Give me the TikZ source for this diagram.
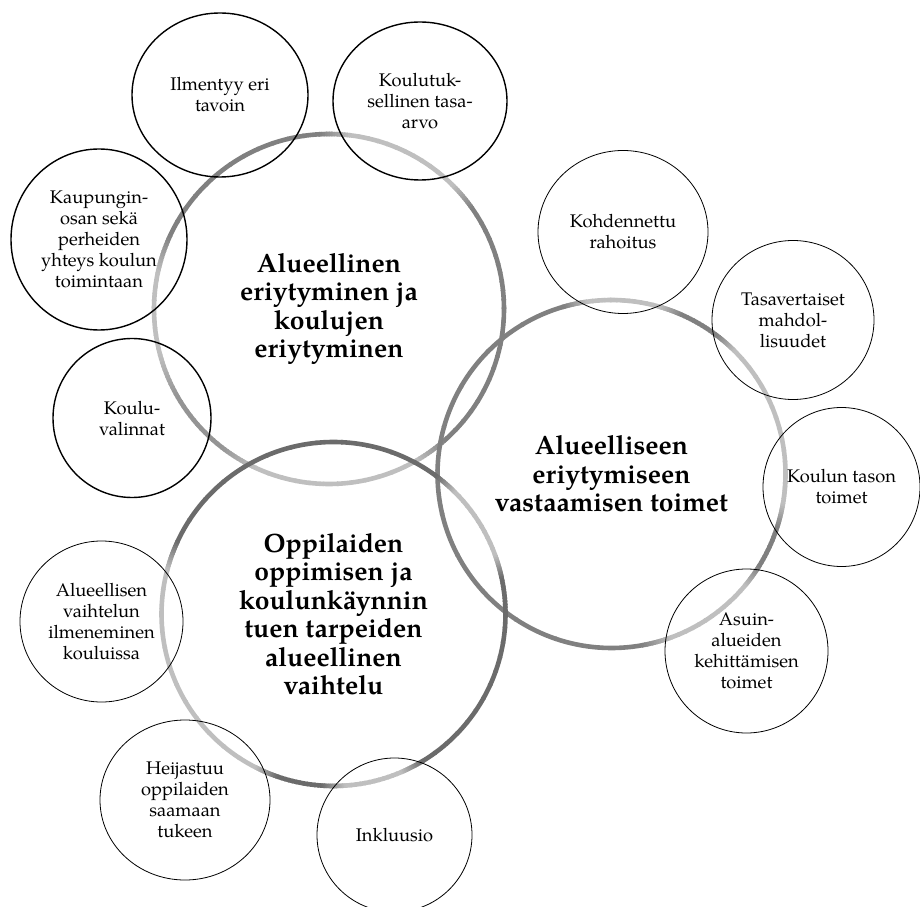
\documentclass[tikz,border=0pt]{standalone}
\usepackage{fontspec}
\setmainfont{texgyrepagella}[Extension=.otf, UprightFont=*-regular, BoldFont=*-bold, ItalicFont=*-italic, BoldItalicFont=*-bolditalic]
\usetikzlibrary{shapes.geometric}
\tikzset{
  bigring/.style={line width=4.6pt, line cap=butt},
  sat/.style n args={2}{ellipse, draw, inner sep=0pt, minimum width=#1, minimum height=#2},
  satA/.style={line width=1.4pt},
  satB/.style={line width=0.8pt},
  smalltext/.style={align=center, inner sep=0pt, font=\fontsize{18.3}{21}\selectfont},
  bigtext/.style={align=center, inner sep=0pt, font=\fontsize{26.5}{28.5}\selectfont\bfseries},
}
\newcommand{\gradarc}[6]{%
  \foreach \k in {0,...,11}{%
    \pgfmathsetmacro{\gaA}{#3+(#4-#3)*\k/12}%
    \pgfmathsetmacro{\gaB}{#3+(#4-#3)*(\k+1)/12+0.5}%
    \pgfmathsetmacro{\gpP}{#5+(#6-#5)*(\k+0.5)/12}%
    \draw[bigring, black!\gpP] (#1) ++(\gaA:#2) arc[start angle=\gaA, end angle=\gaB, radius=#2];
  }}
\begin{document}
\begin{tikzpicture}[x=1pt, y=1pt]
\useasboundingbox (0,0) rectangle (920,906);
\clip (0,0) rectangle (920,906);
\coordinate (A) at (329,597);
\coordinate (B) at (611.5,432);
\coordinate (C) at (333.5,292);
% big ring A
\foreach \a/\p/\b/\q in {0/50/35/50, 35/50/45/25, 45/25/83/25, 83/25/93/50, 93/50/155/50, 155/50/168/25, 168/25/195/25, 195/25/210/42, 210/42/232/42, 232/42/245/25, 245/25/300/25, 300/25/312/50, 312/50/360/50}{%
  \gradarc{A}{175}{\a}{\b}{\p}{\q}}
% big ring B
\foreach \a/\p/\b/\q in {0/25/45/25, 45/25/53/50, 53/50/66/50, 66/50/74/25, 74/25/98/25, 98/25/106/50, 106/50/280/50, 280/50/290/25, 290/25/320/25, 320/25/328/50, 328/50/342/50, 342/50/350/25, 350/25/360/25}{%
  \gradarc{B}{174}{\a}{\b}{\p}{\q}}
% big ring C
\foreach \a/\p/\b/\q in {0/58/12/58, 12/58/20/25, 20/25/45/25, 45/25/53/58, 53/58/155/58, 155/58/165/25, 165/25/243/25, 243/25/251/58, 251/58/266/58, 266/58/274/25, 274/25/293/25, 293/25/301/58, 301/58/360/58}{%
  \gradarc{C}{172}{\a}{\b}{\p}{\q}}
% satellites
\node[sat={176pt}{164pt}, satA] (s1) at (220,811) {};
\node[sat={174pt}{158pt}, satA] (s2) at (420,805) {};
\node[sat={176pt}{181pt}, satA] (s3) at (99,666.5) {};
\node[sat={158pt}{159pt}, satA] (s4) at (132,488) {};
\node[sat={170pt}{163pt}, satB] (s5) at (623,674) {};
\node[sat={162pt}{159pt}, satB] (s6) at (793,586) {};
\node[sat={157pt}{159pt}, satB] (s7) at (841.5,419) {};
\node[sat={163pt}{164pt}, satB] (s8) at (746.5,255) {};
\node[sat={155pt}{154pt}, satB] (s9) at (394.5,71) {};
\node[sat={170pt}{160pt}, satB] (s10) at (185,106) {};
\node[sat={163pt}{161pt}, satB] (s11) at (101.5,284.5) {};
% texts
\node[smalltext] (t1) at (s1) {Ilmentyy eri\\tavoin};
\node[smalltext] (t2) at (s2) {Koulutuk-\\sellinen tasa-\\arvo};
\node[smalltext] (t3) at (s3) {Kaupungin-\\osan sekä\\perheiden\\yhteys koulun\\toimintaan};
\node[smalltext] (t4) at (s4) {Koulu-\\valinnat};
\node[smalltext] (t5) at (s5) {Kohdennettu\\rahoitus};
\node[smalltext] (t6) at (s6) {Tasavertaiset\\mahdol-\\lisuudet};
\node[smalltext] (t7) at (s7) {Koulun tason\\toimet};
\node[smalltext] (t8) at (s8) {Asuin-\\alueiden\\kehittämisen\\toimet};
\node[smalltext] (t9) at (s9) {Inkluusio};
\node[smalltext] (t10) at (s10) {Heijastuu\\oppilaiden\\saamaan\\tukeen};
\node[smalltext] (t11) at (s11) {Alueellisen\\vaihtelun\\ilmeneminen\\kouluissa};
\node[bigtext] (tA) at (A) {Alueellinen\\eriytyminen ja\\koulujen\\eriytyminen};
\node[bigtext] (tB) at (B) {Alueelliseen\\eriytymiseen\\vastaamisen toimet};
\node[bigtext] (tC) at (C) {Oppilaiden\\oppimisen ja\\koulunkäynnin\\tuen tarpeiden\\alueellinen\\vaihtelu};
\end{tikzpicture}
\end{document}
